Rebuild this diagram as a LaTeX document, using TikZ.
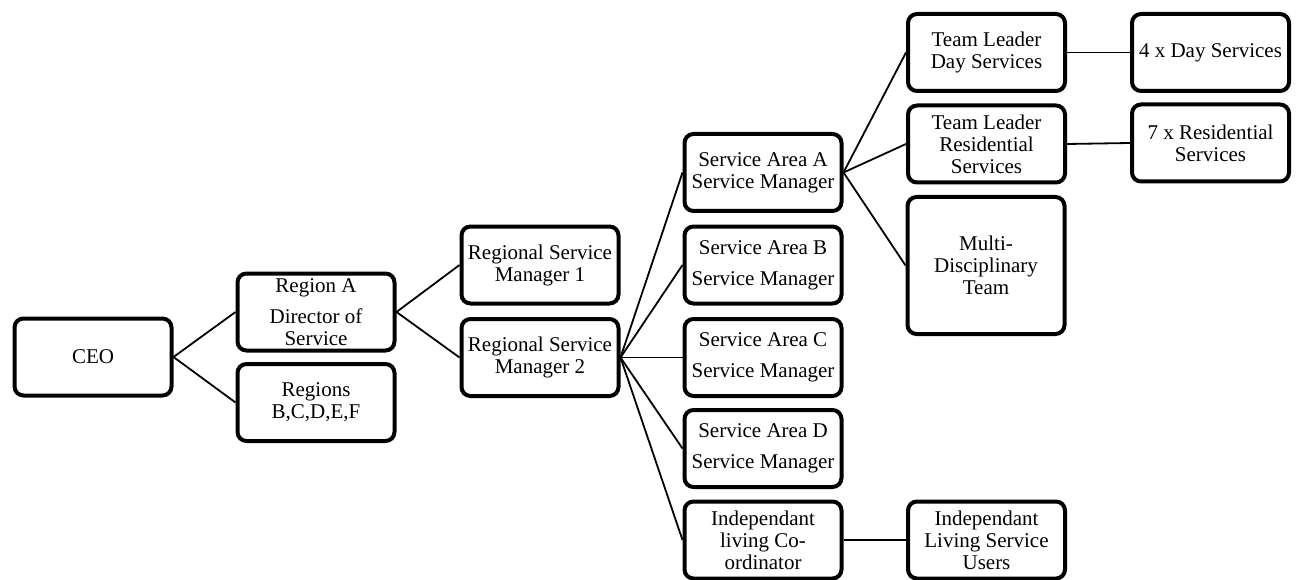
\documentclass[tikz,border=0pt]{standalone}
\usepackage{fontspec}
\setmainfont{Liberation Serif}
\begin{document}
\begin{tikzpicture}[x=1pt,y=-1pt,
  box/.style={draw=black, line width=4pt, rounded corners=9pt, fill=white,
    minimum width=157pt, minimum height=#1, align=center, inner sep=1pt,
    font=\fontsize{21}{22}\selectfont},
  box/.default=77pt,
  link/.style={draw=black, line width=1.8pt}]
\useasboundingbox (0,0) rectangle (1298,580);
% nodes
\node[box] (ceo) at (93,357) {CEO};
\node[box] (rega) at (316,312) {Region A\\[9pt]Director of\\Service};
\node[box] (regb) at (316,402.5) {Regions\\B,C,D,E,F};
\node[box] (rsm1) at (540,265) {Regional Service\\Manager 1};
\node[box] (rsm2) at (540,357.5) {Regional Service\\Manager 2};
\node[box] (saa) at (763,172.5) {Service Area A\\Service Manager};
\node[box] (sab) at (763,265) {Service Area B\\[9pt]Service Manager};
\node[box] (sac) at (763,357.5) {Service Area C\\[9pt]Service Manager};
\node[box] (sad) at (763,448.5) {Service Area D\\[9pt]Service Manager};
\node[box] (ilc) at (763,540) {Independant\\living Co-\\ordinator};
\node[box] (tld) at (986.5,52.5) {Team Leader\\Day Services};
\node[box] (tlr) at (986.5,144) {Team Leader\\Residential\\Services};
\node[box=137pt] (mdt) at (986,265.5) {Multi-\\Disciplinary\\Team};
\node[box] (d4) at (1210.5,52.5) {4 x Day Services};
\node[box] (r7) at (1210.5,143) {7 x Residential\\Services};
\node[box] (ilsu) at (986.5,540) {Independant\\Living Service\\Users};
% connectors
\draw[link] (ceo.east) -- (rega.west);
\draw[link] (ceo.east) -- (regb.west);
\draw[link] (rega.east) -- (rsm1.west);
\draw[link] (rega.east) -- (rsm2.west);
\draw[link] (rsm2.east) -- (saa.west);
\draw[link] (rsm2.east) -- (sab.west);
\draw[link] (rsm2.east) -- (sac.west);
\draw[link] (rsm2.east) -- (sad.west);
\draw[link] (rsm2.east) -- (ilc.west);
\draw[link] (saa.east) -- (tld.west);
\draw[link] (saa.east) -- (tlr.west);
\draw[link] (saa.east) -- (mdt.west);
\draw[link] (tld.east) -- (d4.west);
\draw[link] (tlr.east) -- (r7.west);
\draw[link] (ilc.east) -- (ilsu.west);
\end{tikzpicture}
\end{document}
